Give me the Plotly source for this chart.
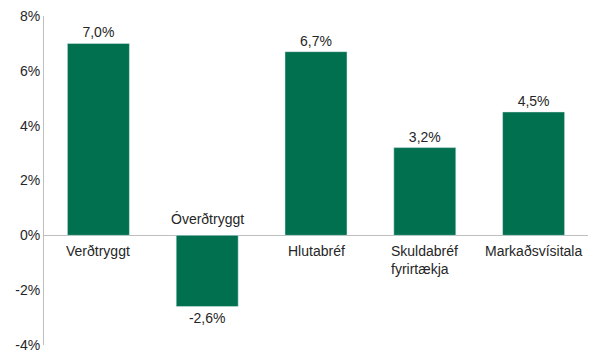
import plotly.graph_objects as go

categories = ["Verðtryggt", "Óverðtryggt", "Hlutabréf", "Skuldabréf<br>fyrirtækja", "Markaðsvísitala"]
values = [7.0, -2.6, 6.7, 3.2, 4.5]
tick_vals = [-4, -2, 0, 2, 4, 6, 8]

green = "#00704F"
font_family = "Liberation Sans, Arial, sans-serif"
text_color = "#262626"

labels = [f"{v:.1f}".replace(".", ",") + "%" for v in values]

fig = go.Figure(go.Bar(
    x=categories, y=values, marker_color=green,
    text=labels, textposition="outside", cliponaxis=False,
    textfont=dict(size=14, color=text_color, family=font_family),
))

for c, v in zip(categories, values):
    fig.add_annotation(
        x=c, y=0, text=c, showarrow=False, align="left",
        yanchor="top" if v >= 0 else "bottom",
        yshift=-6 if v >= 0 else 6,
        font=dict(size=14, color=text_color, family=font_family),
    )

fig.update_layout(
    width=592, height=352,
    margin=dict(l=36, r=12, t=8, b=15, autoexpand=False),
    plot_bgcolor="white", paper_bgcolor="white",
    bargap=0.43, showlegend=False,
    font=dict(family=font_family, size=14, color=text_color),
)
fig.update_xaxes(showticklabels=False, showgrid=False, zeroline=False, showline=False, automargin=False)
fig.update_yaxes(
    range=[-4, 8], tickvals=tick_vals, ticktext=[f"{t}%" for t in tick_vals],
    showgrid=False, zeroline=True, zerolinecolor="#BFBFBF", zerolinewidth=1,
    showline=True, linecolor="#BFBFBF", linewidth=1, ticks="", automargin=False,
    ticklabeloverflow="allow",
    tickfont=dict(size=14, color=text_color, family=font_family),
)

fig.write_html("out.html")
